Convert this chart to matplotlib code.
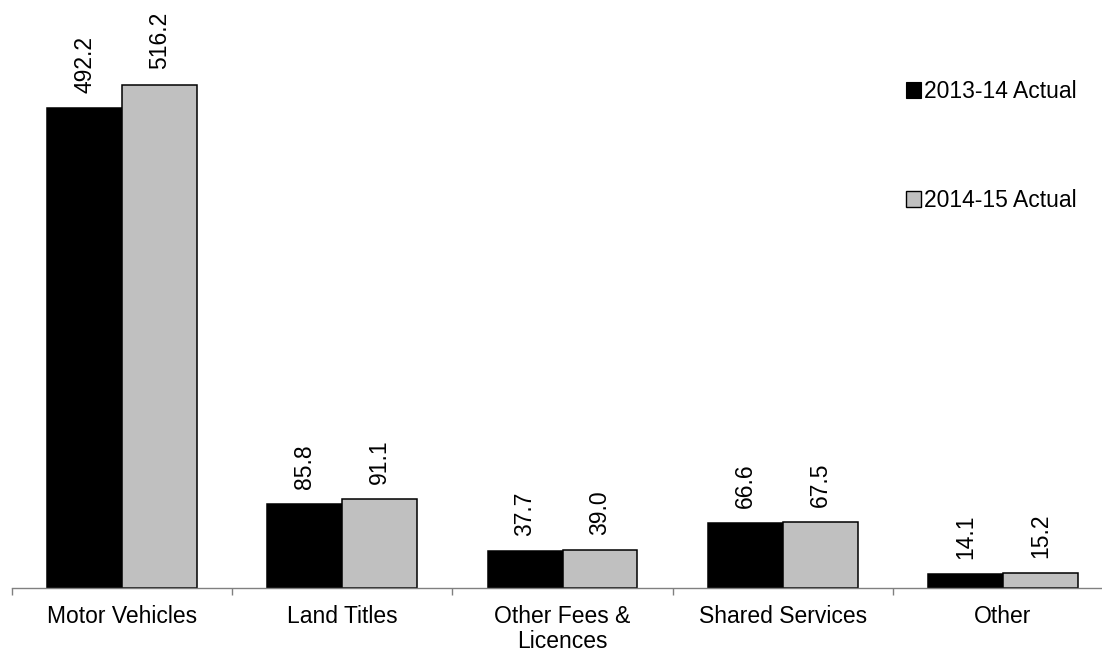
import matplotlib.pyplot as plt
from matplotlib.patches import Patch
import numpy as np

plt.rcParams['font.family'] = ['Liberation Sans', 'DejaVu Sans']

# Revenue by category, $ million
categories = ['Motor Vehicles', 'Land Titles', 'Other Fees &\nLicences', 'Shared Services', 'Other']
actual_2013_14 = [492.2, 85.8, 37.7, 66.6, 14.1]
actual_2014_15 = [516.2, 91.1, 39.0, 67.5, 15.2]
series_names = ['2013-14 Actual', '2014-15 Actual']

fs = 16.5

fig = plt.figure(figsize=(11.02, 6.48), dpi=100)
ax = fig.add_axes([12 / 1102, 60 / 648, 1101 / 1102, 588 / 648])

x = np.arange(len(categories)) + 0.5
w = 0.34
b1 = ax.bar(x - w / 2, actual_2013_14, w, color='black', edgecolor='black', linewidth=1.1)
b2 = ax.bar(x + w / 2, actual_2014_15, w, color='#c0c0c0', edgecolor='black', linewidth=1.1)

for bars, vals in [(b1, actual_2013_14), (b2, actual_2014_15)]:
    for rect, v in zip(bars, vals):
        ax.annotate(f'{v:.1f}', (rect.get_x() + rect.get_width() / 2, v),
                    xytext=(0, 11), textcoords='offset points',
                    rotation=90, ha='center', va='bottom', fontsize=fs)

ax.set_xlim(0, len(categories))
ax.set_ylim(0, 603)

# boundary ticks between groups, labels centred under each group
ax.set_xticks(np.arange(len(categories) + 1))
ax.set_xticklabels([])
ax.set_xticks(x, minor=True)
ax.set_xticklabels(categories, minor=True, fontsize=fs, linespacing=1.12)
ax.tick_params(axis='x', which='major', length=5, width=1, color='#808080', direction='out')
ax.tick_params(axis='x', which='minor', length=0, pad=12)
ax.set_yticks([])

for s in ['top', 'right', 'left']:
    ax.spines[s].set_visible(False)
ax.spines['bottom'].set_color('#808080')
ax.spines['bottom'].set_linewidth(1)

handles = [Patch(facecolor='black', edgecolor='black', linewidth=0.8),
           Patch(facecolor='#c0c0c0', edgecolor='black', linewidth=1.0)]
fig.legend(handles, series_names, loc='upper left', bbox_to_anchor=(906 / 1102, 1 - 80 / 648),
           frameon=False, fontsize=fs, handlelength=0.65, handleheight=0.65,
           handletextpad=0.15, labelspacing=3.75, borderpad=0, borderaxespad=0)

plt.savefig('out.png', dpi=100)
